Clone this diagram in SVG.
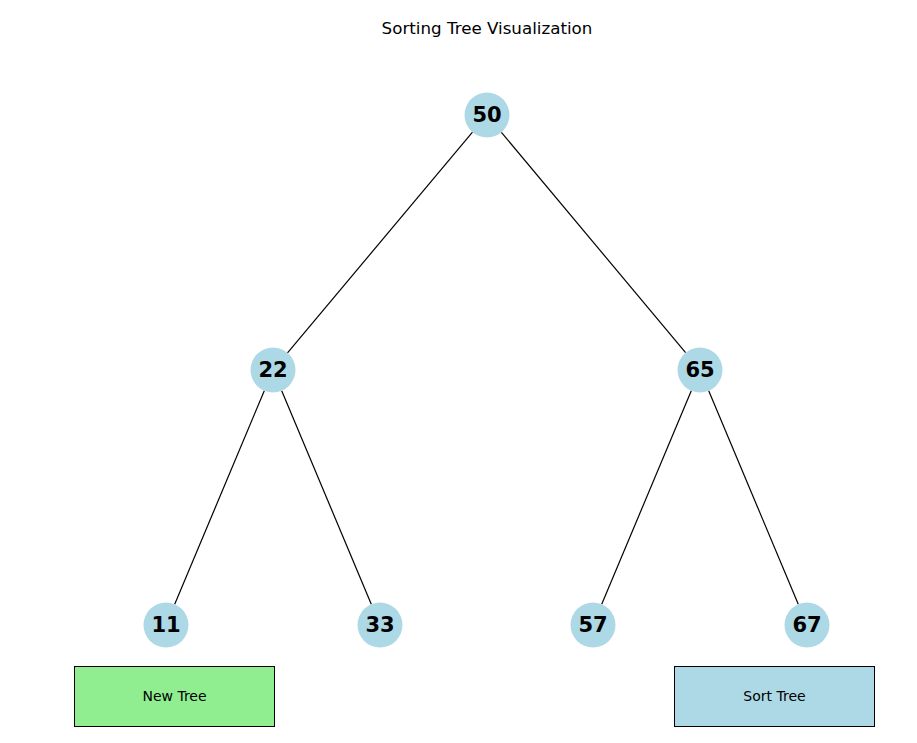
<svg xmlns="http://www.w3.org/2000/svg" width="917" height="743" viewBox="0 0 917 743">
<style>
.node circle{fill:#add8e6;stroke:none}
.node text{font-family:"DejaVu Sans",sans-serif;font-weight:bold;font-size:21px;fill:#000;text-anchor:middle;dominant-baseline:central}
.edges line{stroke:#000;stroke-width:1.2}
.btn rect{stroke:#000;stroke-width:1}
.btn text{font-family:"DejaVu Sans",sans-serif;font-size:14px;fill:#000;text-anchor:middle;dominant-baseline:central}
.title{font-family:"DejaVu Sans",sans-serif;font-size:16.7px;fill:#000;text-anchor:middle}
</style>
<rect width="917" height="743" fill="#fff"/>
<text class="title" x="487" y="34">Sorting Tree Visualization</text>
<g id="edges" class="edges">
<line x1="472.5" y1="132.2" x2="287.5" y2="352.8"/>
<line x1="501.4" y1="132.3" x2="685.6" y2="352.7"/>
<line x1="264.3" y1="390.7" x2="174.7" y2="604.3"/>
<line x1="281.7" y1="390.7" x2="371.3" y2="604.3"/>
<line x1="691.3" y1="390.7" x2="601.7" y2="604.3"/>
<line x1="708.7" y1="390.7" x2="798.3" y2="604.3"/>
</g>
<g id="node-50" class="node"><circle cx="487" cy="115" r="22.5"/><text x="487" y="115">50</text></g>
<g id="node-22" class="node"><circle cx="273" cy="370" r="22.5"/><text x="273" y="370">22</text></g>
<g id="node-65" class="node"><circle cx="700" cy="370" r="22.5"/><text x="700" y="370">65</text></g>
<g id="node-11" class="node"><circle cx="166" cy="625" r="22.5"/><text x="166" y="625">11</text></g>
<g id="node-33" class="node"><circle cx="380" cy="625" r="22.5"/><text x="380" y="625">33</text></g>
<g id="node-57" class="node"><circle cx="593" cy="625" r="22.5"/><text x="593" y="625">57</text></g>
<g id="node-67" class="node"><circle cx="807" cy="625" r="22.5"/><text x="807" y="625">67</text></g>
<g id="btn-new" class="btn"><rect x="74.5" y="666.5" width="200" height="60" fill="#90ee90"/><text x="174.5" y="695.5">New Tree</text></g>
<g id="btn-sort" class="btn"><rect x="674.5" y="666.5" width="200" height="60" fill="#add8e6"/><text x="774.5" y="695.5">Sort Tree</text></g>
</svg>
